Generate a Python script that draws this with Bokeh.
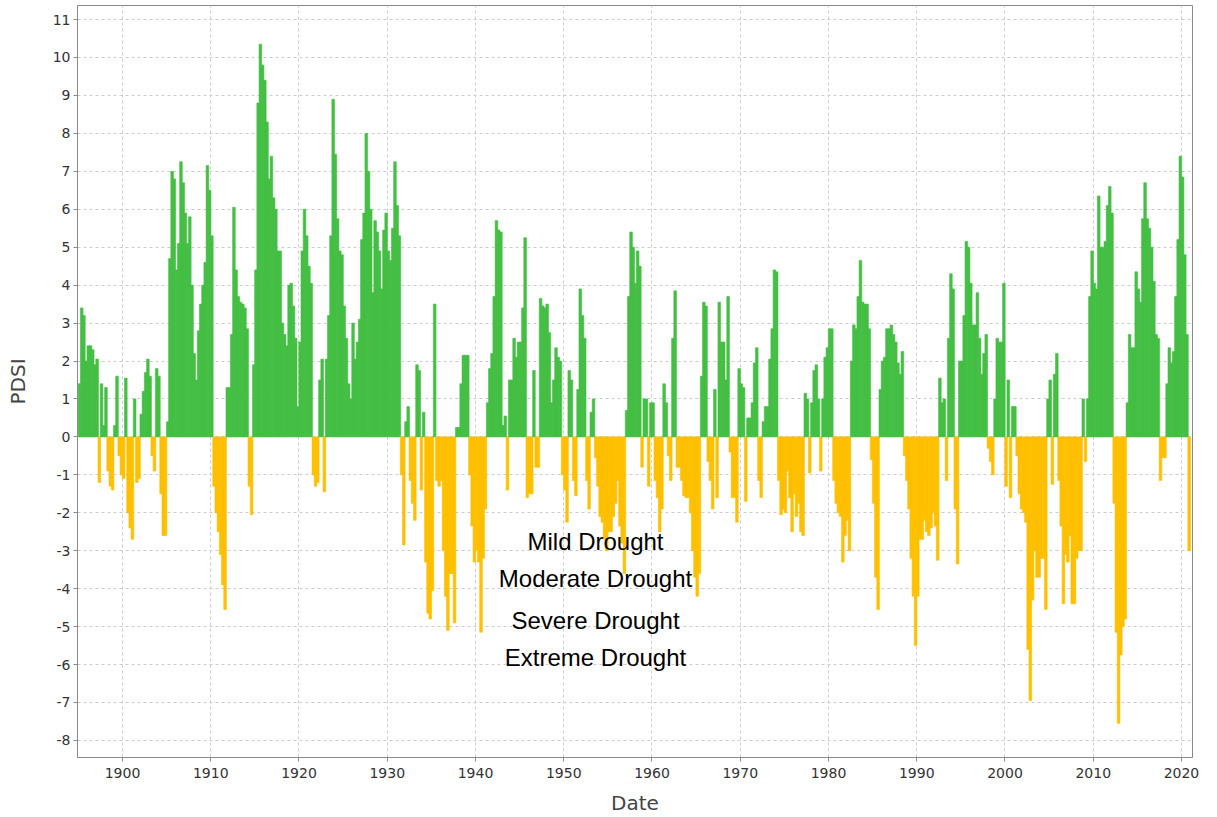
from bokeh.plotting import figure
from bokeh.models import ColumnDataSource, Range1d, FixedTicker, Label
from bokeh.embed import file_html
from bokeh.resources import INLINE

# Quarterly PDSI values (4 values per year)
pdsi_1895_1904 = [
    1.4, 3.4, 3.2, 2.0,   2.4, 2.4, 2.3, 1.9,   2.05, -1.2, 1.4, 0.3,
    1.3, -0.9, -1.3, -1.4, 0.3, 1.6, -0.5, -1.0, -1.1, 1.55, -2.0, -2.4,
    -2.7, 1.0, -1.2, -1.1, 0.6, 1.2, 1.7, 2.05,  1.6, -0.5, -0.9, 1.8,
    1.6, -1.5, -2.6, -2.6,
]
pdsi_1905_1914 = [
    0.4, 4.7, 7.0, 6.8,   4.4, 5.1, 7.25, 6.7,  5.9, 5.1, 5.8, 4.0,
    2.2, 1.5, 2.8, 3.5,   4.0, 4.6, 7.15, 6.5,  5.3, -1.3, -2.0, -2.5,
    -3.1, -3.9, -4.55, 1.3, 1.3, 2.7, 6.05, 4.4, 3.7, 3.55, 3.5, 3.4,
    2.85, -1.3, -2.05, 1.9,
]
pdsi_1915_1924 = [
    4.4, 8.8, 10.35, 9.8, 9.4, 8.3, 6.8, 7.4,  6.3, 6.0, 4.9, 4.9,
    3.0, 2.7, 2.4, 4.0,   4.05, 3.45, 2.6, 0.8, 2.5, 4.9, 6.0, 5.3,
    4.5, 4.05, -1.0, -1.3, -1.2, 1.5, 2.05, -1.45, 2.05, 3.2, 5.3, 8.9,
    7.45, 5.75, 4.9, 4.8,
]
pdsi_1925_1934 = [
    3.45, 2.6, 1.4, 1.0,  3.0, 2.05, 2.5, 3.1,  5.2, 5.9, 8.0, 7.0,
    6.0, 3.8, 5.7, 5.4,   4.9, 3.9, 5.45, 5.9,  4.9, 4.65, 5.5, 7.25,
    6.1, 5.3, -1.0, -2.85, 0.4, 0.8, -1.15, -1.75, -2.2, 1.9, 1.75, -1.4,
    0.65, -3.3, -4.65, -4.8,
]
pdsi_1935_1944 = [
    -4.05, 3.5, -1.15, -1.3, -1.15, -3.0, -4.2, -5.1, -3.6, -3.6, -4.9, 0.25,
    0.25, 1.4, 2.15, 2.15, 2.15, -1.0, -2.35, -3.3, -3.0, -3.3, -5.15, -3.2,
    -1.9, 0.9, 1.8, 2.2,  3.7, 5.7, 5.45, 5.4,  0.3, 0.55, -1.4, 1.5,
    1.5, 2.6, 2.1, 2.5,
]
pdsi_1945_1954 = [
    2.5, 3.4, 5.25, -1.6, -1.5, -1.5, 1.75, -0.8, -0.8, 3.65, 3.45, 3.4,
    3.5, 2.75, 0.9, 1.5,  2.35, 2.1, 2.0, -1.0, -1.4, -2.25, 1.75, 1.5,
    -1.15, -1.55, 1.25, 3.9, 3.2, 2.6, -1.15, -1.9, 0.65, 1.0, -0.55, -1.3,
    -2.1, -2.25, -2.7, -3.0,
]
pdsi_1955_1964 = [
    -2.5, -2.5, -2.1, -1.75, -1.15, -2.35, -2.8, -3.6, 0.7, 3.7, 5.4, 5.0,
    4.05, 4.9, 4.5, -0.8, 1.0, 1.0, -1.3, 0.9,  0.9, -1.15, -1.6, -2.5,
    -1.9, 1.4, 0.9, -0.5, -1.15, 2.6, 3.85, -0.8, -0.8, -1.15, -1.55, -1.6,
    -1.6, -2.0, -3.0, -3.7,
]
pdsi_1965_1974 = [
    -4.2, -3.6, 1.6, 3.55, 3.45, -0.65, -1.15, -1.9, 1.25, -1.6, 3.55, 2.5,
    2.5, 1.5, 3.7, -0.4,  -1.6, -1.6, -2.25, 1.8, 1.4, 1.3, -1.7, 0.5,
    0.5, 0.9, 1.95, 2.35, -1.15, -1.6, 0.4, 0.8, 0.8, 2.05, 2.85, 4.4,
    4.35, -1.15, -2.05, -1.9,
]
pdsi_1975_1984 = [
    -2.0, -0.9, -1.6, -2.5, -1.5, -2.1, -1.75, -2.5, -2.6, 1.15, 1.0, -0.95,
    0.9, 1.75, 1.9, 1.0,  -0.9, 1.0, 2.1, 2.35,  2.85, 2.85, -1.15, -1.75,
    -2.0, -2.1, -3.3, -2.6, -2.2, -3.0, 2.0, 2.95, 2.85, 3.7, 4.65, 3.55,
    3.5, 3.5, 2.85, -0.6,
]
pdsi_1985_1994 = [
    -1.75, -3.7, -4.55, 1.25, 2.0, 2.1, 2.85, 2.85, 2.95, 2.7, 2.5, 1.95,
    1.65, 2.25, -0.5, -1.15, -1.9, -3.2, -4.2, -5.5, -4.2, -2.7, -2.7, -2.2,
    -2.5, -2.6, -2.4, -2.0, -2.35, -3.25, 1.55, 0.9, 1.0, -1.15, 2.6, 4.3,
    3.9, -1.9, -3.35, 2.0,
]
pdsi_1995_2004 = [
    2.0, 3.2, 5.15, 5.0,  4.05, 2.95, 2.95, 3.8, 2.6, 1.65, 2.2, 2.7,
    -0.3, -0.65, -1.0, 1.0, 2.6, 2.5, 2.5, 4.05, -1.3, 1.5, -1.6, 0.8,
    0.8, -0.5, -1.5, -1.9, -2.0, -2.25, -5.6, -6.95, -4.3, -3.0, -3.7, -3.7,
    -3.2, -3.2, -4.55, 1.0,
]
pdsi_2005_2014 = [
    1.5, -1.25, 1.65, 2.2, -1.15, -2.35, -4.4, -3.1, -3.3, -2.6, -4.4, -4.4,
    -3.2, -3.0, -3.0, 1.0, -0.65, 1.0, 3.7, 4.9, 4.05, 3.9, 6.35, 5.0,
    5.0, 5.15, 6.1, 6.6,  5.9, -1.75, -5.15, -7.55, -5.75, -5.0, -4.8, 0.9,
    2.7, 2.35, 2.35, 4.35,
]
pdsi_2015_2020 = [
    3.9, 3.55, 5.75, 6.7, 5.75, 5.5, 5.0, 4.1,  2.7, 2.6, -1.15, -0.55,
    -0.55, 1.4, 2.35, 1.95, 2.25, 3.7, 5.2, 7.4, 6.85, 4.8, 2.7, -3.0,
]

first_year = 1895
x_ticks = list(range(1900, 2021, 10))
y_ticks = list(range(-8, 12))
drought_labels = ["Mild Drought", "Moderate Drought", "Severe Drought", "Extreme Drought"]

pdsi = (pdsi_1895_1904 + pdsi_1905_1914 + pdsi_1915_1924 + pdsi_1925_1934 +
        pdsi_1935_1944 + pdsi_1945_1954 + pdsi_1955_1964 + pdsi_1965_1974 +
        pdsi_1975_1984 + pdsi_1985_1994 + pdsi_1995_2004 + pdsi_2005_2014 +
        pdsi_2015_2020)

GREEN = "#44BF44"
YELLOW = "#FFC000"
xs = [first_year + (i + 0.5) / 4.0 for i in range(len(pdsi))]
colors = [GREEN if v >= 0 else YELLOW for v in pdsi]
src = ColumnDataSource(dict(x=xs, top=pdsi, color=colors))

p = figure(width=1217, height=817, output_backend="svg", toolbar_location=None,
           x_range=Range1d(1894.9, 2021.25), y_range=Range1d(-8.45, 11.37),
           min_border_left=77, min_border_right=25, min_border_top=5,
           min_border_bottom=60, background_fill_color="white",
           border_fill_color="white")

p.vbar(x="x", top="top", bottom=0, width=0.3, source=src,
       fill_color="color", line_color="color", line_width=0.6)

p.outline_line_color = "#8a8a8a"
p.outline_line_width = 1

p.xaxis.ticker = FixedTicker(ticks=x_ticks)
p.yaxis.ticker = FixedTicker(ticks=y_ticks)
p.xgrid.ticker = FixedTicker(ticks=x_ticks)
p.ygrid.ticker = FixedTicker(ticks=y_ticks)
for g in (p.xgrid, p.ygrid):
    g.grid_line_color = "#cccccc"
    g.grid_line_dash = "3 3"
    g.grid_line_width = 1

for ax in (p.xaxis, p.yaxis):
    ax.axis_line_color = "#8a8a8a"
    ax.major_tick_line_color = "#8a8a8a"
    ax.major_tick_out = 4
    ax.major_tick_in = 0
    ax.minor_tick_line_color = None
    ax.major_label_text_font = "DejaVu Sans"
    ax.major_label_text_font_size = "14px"
    ax.major_label_text_color = "#333333"
    ax.axis_label_text_font = "DejaVu Sans"
    ax.axis_label_text_font_style = "normal"
    ax.axis_label_text_font_size = "20px"
    ax.axis_label_text_color = "#444444"

p.yaxis.major_label_overrides = {t: str(t) for t in y_ticks}
p.xaxis.axis_label = "Date"
p.yaxis.axis_label = "PDSI"
p.xaxis.major_label_standoff = 6
p.yaxis.major_label_standoff = 3
p.xaxis.axis_label_standoff = 10
p.yaxis.axis_label_standoff = 20

label_x = 1953.6
label_y = [-2.77, -3.74, -4.85, -5.82]
for txt, ly in zip(drought_labels, label_y):
    p.add_layout(Label(x=label_x, y=ly, text=txt, text_align="center",
                       text_baseline="middle", text_font="Liberation Sans",
                       text_font_size="24px", text_color="black"))

open("out.html", "w").write(file_html(p, INLINE))
